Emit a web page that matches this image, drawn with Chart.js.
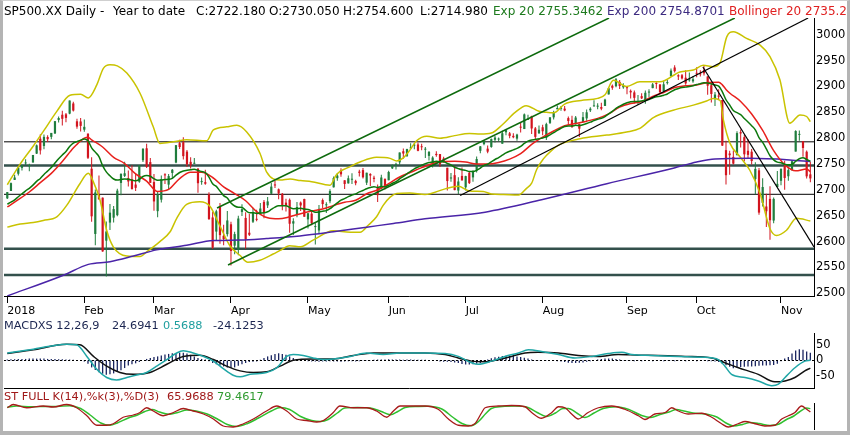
<!DOCTYPE html>
<html><head><meta charset="utf-8">
<script src="https://cdn.jsdelivr.net/npm/chart.js@4.4.1/dist/chart.umd.min.js"></script>
<style>
html,body{margin:0;padding:0;background:#fff;}
#wrap{position:relative;width:850px;height:435px;overflow:hidden;background:#fff;font-family:"DejaVu Sans",sans-serif;}
canvas{position:absolute;left:0;}
.t{position:absolute;white-space:pre;font-size:12px;line-height:14px;font-family:"DejaVu Sans",sans-serif;}
.s{font-size:11.3px;}
#frame{position:absolute;left:0;top:0;width:850px;height:435px;box-sizing:border-box;border-left:3px solid #b4b4b4;border-right:3px solid #b4b4b4;border-bottom:4px solid #b4b4b4;border-top:1px solid #cfcfcf;pointer-events:none;}
</style></head><body>
<div id="wrap">
<canvas id="cMain" width="850" height="320" style="top:0;width:850px;height:320px"></canvas>
<canvas id="cMacd" width="850" height="80" style="top:318px;width:850px;height:80px"></canvas>
<canvas id="cSto" width="850" height="50" style="top:390px;width:850px;height:50px"></canvas>
<div class="t" style="left:4px;top:4px;color:#000">SP500.XX Daily -</div>
<div class="t" style="left:113px;top:4px;color:#000">Year to date</div>
<div class="t" style="left:196px;top:4px;color:#000">C:2722.180</div>
<div class="t" style="left:269px;top:4px;color:#000">O:2730.050</div>
<div class="t" style="left:343px;top:4px;color:#000">H:2754.600</div>
<div class="t" style="left:420px;top:4px;color:#000">L:2714.980</div>
<div class="t" style="left:493px;top:4px;color:#1d7a1d">Exp 20 2755.3462</div>
<div class="t" style="left:607px;top:4px;color:#3c2a80">Exp 200 2754.8701</div>
<div class="t" style="left:729px;top:4px;color:#e02020">Bollinger 20 2735.2</div>
<div class="t s" style="left:4px;top:319px;color:#1b2550">MACDXS 12,26,9</div>
<div class="t s" style="left:112px;top:319px;color:#1b2550">24.6941</div>
<div class="t s" style="left:163px;top:319px;color:#1e9e9e">0.5688</div>
<div class="t s" style="left:213px;top:319px;color:#1b2550">-24.1253</div>
<div class="t s" style="left:4px;top:390px;color:#a01818">ST FULL K(14),%k(3),%D(3)</div>
<div class="t s" style="left:167px;top:390px;color:#a01818">65.9688</div>
<div class="t s" style="left:217px;top:390px;color:#2f9a2f">79.4617</div>
<div id="frame"></div>
</div>
<script>
// ---------- DATA ----------
const monthStartIdx = [0,21,40,61,82,104,125,146,169,188,211];
const monthLabels = ['2018','Feb','Mar','Apr','May','Jun','Jul','Aug','Sep','Oct','Nov'];

const openP = [
2683.7,2697.9,2719.3,2731.3,2742.7,2751.2,2745.6,2753.0,2770.2,2799.0,2785.0,2802.4,2802.6,2809.2,2835.1,2845.4,2846.2,2847.5,2867.2,2832.7,2832.4,
2816.5,2808.9,2741.1,2614.8,2691.0,2685.0,2601.8,2636.8,2646.3,2651.2,2713.5,2727.1,2723.0,2720.5,2710.4,2715.8,2757.4,2780.5,2753.8,
2715.2,2658.9,2681.1,2730.2,2710.2,2732.8,2752.9,2790.5,2792.3,2774.1,2754.3,2750.6,2741.4,2715.1,2715.0,2691.4,2646.7,2619.4,2667.6,2611.3,2614.4,
2633.5,2592.2,2584.0,2657.4,2645.8,2617.2,2638.4,2643.7,2653.8,2676.9,2670.1,2692.7,2710.1,2701.2,2692.6,2675.4,2680.8,2634.9,2651.7,2675.5,2682.5,
2643.0,2654.2,2628.1,2621.5,2680.3,2670.3,2678.1,2705.0,2722.7,2738.5,2718.6,2712.6,2719.7,2717.4,2735.4,2738.3,2714.0,2730.9,2723.6,2705.1,2702.4,2721.0,
2718.7,2741.7,2748.5,2753.3,2774.8,2765.8,2780.2,2785.6,2787.9,2783.2,2777.8,2765.8,2752.0,2769.7,2769.3,2760.8,2742.9,2722.1,2728.5,2698.7,2727.1,
2705.0,2733.3,2724.2,2737.7,2775.6,2788.6,2779.8,2783.1,2796.9,2797.4,2789.3,2811.4,2809.4,2804.6,2799.2,2820.7,2817.7,2835.5,2842.4,2819.0,2809.7,
2821.2,2800.5,2829.6,2840.3,2855.9,2856.8,2857.2,2838.9,2835.5,2827.9,2828.0,2831.4,2838.3,2853.9,2861.5,2861.0,2860.3,2862.4,2884.7,2901.5,2900.6,2908.9,2898.4,
2897.0,2891.6,2888.6,2868.3,2881.4,2871.6,2888.3,2896.9,2906.4,2903.8,2890.7,2906.6,2919.7,2936.8,2921.8,2921.8,2917.0,2911.7,2910.0,
2926.3,2923.8,2931.7,2919.4,2902.5,2877.5,2882.5,2873.9,2776.9,2770.5,2763.8,2767.1,2811.7,2802.0,2775.7,2773.9,2721.0,2737.9,2674.9,2667.9,2682.7,2640.7,2705.6,
2717.6,2745.5,2726.4,2738.4,2774.1,2806.4,2794.1,2773.9,2730.1];

const highP = [
2695.9,2714.4,2729.3,2743.5,2748.5,2759.1,2750.8,2767.6,2787.9,2807.5,2807.0,2805.8,2810.3,2833.0,2842.2,2853.0,2848.6,2872.9,2870.6,2837.8,2839.3,
2836.0,2808.9,2763.4,2701.0,2727.7,2685.3,2638.7,2672.6,2668.8,2702.1,2731.5,2754.4,2737.6,2747.8,2731.3,2747.8,2780.6,2789.2,2761.5,
2730.9,2696.3,2728.1,2732.1,2730.6,2740.5,2786.6,2797.0,2801.9,2777.1,2763.0,2761.9,2741.4,2724.2,2739.1,2695.7,2657.7,2661.4,2674.8,2632.7,2659.1,
2638.3,2619.1,2649.9,2672.1,2656.9,2653.6,2665.5,2661.4,2674.7,2680.3,2686.5,2713.3,2717.5,2702.8,2693.9,2682.9,2683.6,2645.3,2676.5,2677.4,2682.9,
2655.3,2660.9,2637.1,2670.9,2683.4,2676.3,2701.3,2726.1,2732.9,2742.1,2718.6,2727.8,2732.0,2719.5,2739.2,2742.2,2733.3,2732.0,2727.4,2710.7,2729.3,2722.5,
2736.9,2749.2,2752.6,2772.4,2779.9,2779.4,2790.2,2789.8,2791.5,2789.1,2782.8,2775.0,2765.1,2774.9,2769.3,2764.2,2742.9,2732.9,2746.1,2724.3,2743.3,
2727.3,2736.6,2737.8,2764.4,2784.7,2795.6,2785.9,2799.2,2804.5,2801.2,2814.2,2816.8,2812.1,2809.7,2808.6,2830.0,2848.0,2845.6,2843.2,2821.7,2824.5,
2825.8,2829.9,2840.4,2853.3,2863.4,2862.4,2862.5,2842.2,2843.4,2843.1,2828.0,2850.5,2855.6,2859.8,2873.2,2867.5,2868.8,2876.2,2898.3,2903.8,2916.5,2912.5,2906.3,
2900.2,2894.2,2892.1,2883.8,2886.9,2892.5,2894.7,2906.8,2908.3,2904.7,2911.2,2912.4,2934.8,2940.9,2923.8,2924.0,2931.2,2927.2,2920.5,
2937.1,2931.4,2939.9,2919.8,2909.6,2889.5,2894.8,2874.0,2795.1,2775.8,2776.0,2813.5,2816.9,2806.0,2797.8,2778.9,2753.6,2742.6,2722.7,2692.4,2706.9,2685.4,2736.7,
2741.7,2756.6,2744.3,2756.8,2815.2,2814.8,2794.1,2776.0,2754.6];

const lowP = [
2682.4,2697.8,2719.1,2727.9,2737.6,2747.9,2736.1,2752.8,2769.6,2768.6,2778.4,2792.6,2798.1,2808.1,2830.6,2824.8,2830.9,2846.2,2851.5,2818.3,2813.0,
2812.7,2760.0,2638.2,2593.1,2681.3,2580.6,2532.7,2622.5,2637.1,2648.9,2689.8,2725.1,2706.8,2701.3,2697.8,2713.7,2753.8,2742.2,2713.5,
2659.7,2647.3,2675.8,2711.3,2701.7,2721.9,2751.5,2779.3,2758.7,2744.4,2741.5,2750.0,2694.6,2710.1,2709.8,2641.6,2585.9,2601.8,2596.1,2593.1,2609.7,
2553.8,2575.5,2573.6,2649.6,2586.3,2610.8,2635.8,2639.3,2653.8,2645.1,2665.2,2692.1,2703.6,2681.9,2660.6,2658.0,2617.3,2612.7,2647.2,2659.0,2648.0,
2625.4,2631.7,2594.6,2615.3,2664.7,2655.2,2674.1,2704.5,2717.5,2725.5,2701.9,2712.2,2711.4,2709.2,2725.7,2721.9,2709.5,2707.4,2715.0,2676.8,2702.4,2700.7,
2718.7,2740.5,2739.5,2748.5,2760.2,2763.6,2780.2,2778.8,2774.7,2776.5,2761.7,2757.1,2743.2,2763.9,2744.4,2752.7,2698.7,2715.6,2699.4,2692.0,2718.0,
2699.0,2711.2,2716.0,2733.5,2770.7,2786.2,2770.8,2781.5,2791.7,2793.4,2789.2,2805.9,2799.8,2800.0,2795.1,2811.1,2817.7,2835.3,2808.3,2798.1,2808.1,
2805.9,2796.3,2827.4,2836.0,2855.9,2853.1,2852.0,2825.8,2819.9,2826.6,2802.5,2831.4,2833.7,2850.6,2861.3,2856.1,2854.0,2862.4,2884.7,2893.5,2898.4,2895.2,2895.8,
2885.1,2876.9,2867.3,2864.1,2875.9,2866.8,2879.2,2896.4,2895.8,2886.2,2890.4,2903.8,2919.7,2927.1,2912.6,2913.7,2903.3,2909.3,2907.5,
2917.9,2919.4,2921.4,2883.9,2869.3,2862.1,2874.3,2784.9,2710.5,2729.4,2749.0,2766.9,2781.8,2755.2,2760.3,2749.2,2691.4,2651.9,2667.8,2628.2,2603.5,2635.3,2705.6,
2708.9,2700.4,2717.9,2737.1,2774.1,2795.0,2764.2,2722.0,2715.0];

const closeP = [
2695.8,2713.1,2724.0,2743.2,2747.7,2751.3,2748.2,2767.6,2786.2,2776.4,2802.6,2798.0,2810.3,2833.0,2839.1,2837.5,2839.3,2872.9,2853.5,2822.4,2823.8,
2822.0,2762.1,2648.9,2695.1,2681.7,2581.0,2619.6,2656.0,2662.9,2698.6,2731.2,2732.2,2716.3,2701.3,2704.0,2747.3,2779.6,2744.3,2713.8,
2677.7,2691.3,2720.9,2728.1,2726.8,2739.0,2786.6,2783.0,2765.3,2749.5,2747.3,2752.0,2712.9,2716.9,2711.9,2643.7,2588.3,2658.6,2612.6,2605.0,2640.9,
2581.9,2614.5,2644.7,2662.8,2604.5,2613.2,2656.9,2642.2,2664.0,2656.3,2677.8,2706.4,2708.6,2693.1,2670.1,2670.3,2634.6,2639.4,2666.9,2669.9,2648.1,
2654.8,2635.7,2629.7,2663.4,2672.6,2671.9,2697.8,2723.1,2727.7,2730.1,2711.5,2722.5,2720.1,2713.0,2733.0,2724.4,2733.3,2727.8,2721.3,2689.9,2724.0,2705.3,
2734.6,2746.9,2748.8,2772.4,2770.4,2779.0,2782.0,2786.9,2775.6,2782.5,2779.7,2773.8,2762.6,2767.3,2749.8,2754.9,2717.1,2723.1,2699.6,2716.3,2718.4,
2726.7,2713.2,2736.6,2759.8,2784.2,2793.8,2774.0,2798.3,2801.3,2798.4,2809.6,2815.6,2804.5,2801.8,2807.0,2820.4,2846.1,2837.4,2818.8,2802.6,2816.3,
2813.4,2827.2,2840.4,2850.4,2858.5,2857.7,2853.6,2833.3,2821.9,2840.0,2818.4,2840.7,2850.1,2857.1,2863.0,2861.8,2857.0,2874.7,2896.7,2897.5,2914.0,2901.1,2901.5,
2896.7,2888.6,2878.1,2871.7,2877.1,2887.9,2888.9,2904.2,2905.0,2888.8,2904.3,2908.0,2930.8,2929.7,2919.4,2915.6,2906.0,2914.0,2914.0,
2924.6,2923.4,2925.5,2901.6,2885.6,2884.4,2880.3,2785.7,2728.4,2767.1,2750.8,2809.9,2809.2,2768.8,2767.8,2755.9,2740.7,2656.1,2705.6,2658.7,2641.3,2682.6,2711.7,
2740.4,2723.1,2738.3,2755.5,2813.9,2806.8,2781.0,2726.2,2722.2];

const ema20 = [
2672.5,2676.4,2680.9,2686.8,2692.6,2698.2,2703.0,2709.2,2716.5,2722.2,2729.9,2736.4,2743.4,2751.9,2760.2,2767.6,2774.4,2783.8,2790.4,2793.4,2796.3,
2798.7,2795.2,2781.3,2773.1,2764.4,2746.9,2734.8,2727.3,2721.1,2719.0,2720.2,2721.3,2720.8,2718.9,2717.5,2720.3,2725.9,2727.7,2726.4,2721.8,
2718.9,2719.1,2720.0,2720.6,2722.4,2728.5,2733.7,2736.7,2737.9,2738.8,2740.1,2737.5,2735.5,2733.3,2724.8,2711.8,2706.8,2697.8,2689.0,2684.4,
2674.6,2668.9,2666.6,2666.2,2660.3,2655.8,2655.9,2654.6,2655.5,2655.6,2657.7,2662.3,2666.7,2669.2,2669.3,2669.4,2666.1,2663.6,2663.9,2664.5,
2662.9,2662.1,2659.6,2656.8,2657.4,2658.8,2660.0,2663.6,2669.3,2674.9,2680.2,2683.2,2686.9,2690.1,2692.3,2696.2,2698.9,2702.2,2704.6,2706.2,
2704.6,2706.4,2706.3,2709.0,2712.6,2716.0,2721.4,2726.1,2731.1,2735.9,2740.8,2744.1,2747.8,2750.8,2753.0,2753.9,2755.2,2754.7,2754.7,2751.1,
2748.4,2743.8,2741.2,2739.0,2737.8,2735.5,2735.6,2737.9,2742.3,2747.2,2749.7,2754.3,2758.8,2762.6,2767.1,2771.7,2774.8,2777.4,2780.2,2784.0,
2789.9,2794.4,2796.7,2797.3,2799.1,2800.5,2803.0,2806.6,2810.8,2815.3,2819.3,2822.6,2823.6,2823.4,2825.0,2824.4,2826.0,2828.3,2831.0,2834.0,
2836.6,2838.5,2841.9,2847.1,2851.9,2857.8,2861.9,2865.7,2868.6,2870.5,2871.2,2871.2,2871.8,2873.3,2874.8,2877.6,2880.2,2881.0,2883.2,2885.6,
2889.9,2893.7,2896.1,2898.0,2898.8,2900.2,2901.5,2903.7,2905.6,2907.5,2906.9,2904.9,2902.9,2900.7,2889.8,2874.4,2864.2,2853.4,2849.3,2845.5,
2838.2,2831.5,2824.3,2816.3,2801.0,2791.9,2779.2,2766.1,2758.1,2753.7,2752.4,2749.6,2748.5,2749.2,2755.4,2760.3,2762.3,2758.9,2755.3];

const sma20Pts = [[0,2667],[3,2681],[6,2696],[9,2714],[12,2732],[15,2755],[18,2781],[19,2788],[20,2794.5],[21,2800],[22,2802],[23,2797],[26,2783],[29,2763],[32,2751],[35,2731],[38,2717],[41,2697],[44,2701],[47,2722],[50,2734],[53,2734],[56,2724],[59,2706],[62,2693],[65,2679],[68,2658],[71,2646],[74,2644],[77,2648],[80,2654],[83,2659],[86,2663],[89,2670],[92,2676],[95,2680],[98,2692.5],[101,2700],[104,2712],[107,2725],[110,2734],[113,2743],[116,2751],[119,2755],[122,2755.6],[125,2754],[128,2750],[131,2750],[134,2753],[137,2759.5],[140,2770],[143,2788],[146,2802],[149,2814],[152,2824],[155,2828.5],[158,2833],[161,2838.4],[164,2847],[167,2860],[170,2867],[173,2871],[176,2881],[179,2888.5],[182,2898],[185,2901.5],[188,2903],[191,2907.7],[194,2908.4],[195,2903.2],[196,2894.4],[197,2887.5],[200,2871],[203,2846.7],[206,2815],[209,2776],[212,2749],[215,2737],[218,2740.4],[219,2735.2]];

const bbUpperPts = [[0,2710],[3.5,2750],[7.1,2785],[10,2815],[13.5,2852],[17.1,2883],[20,2885],[22.1,2878],[24.4,2903],[26.2,2935],[28,2942],[30,2940],[32.6,2926],[36.2,2887],[39.8,2822],[41.6,2790],[45.3,2793],[48.9,2797],[54.4,2795],[56.2,2816],[59.8,2822],[62.6,2825],[65.3,2812],[68.9,2771],[70.7,2735],[74.4,2719],[77.1,2721],[80,2718],[83,2716],[88,2709],[89.8,2730],[93.5,2745],[96.2,2754],[100.7,2763],[104.4,2761],[106.2,2756],[108,2762],[109.8,2777],[111.6,2795],[114.4,2804],[118,2800],[122,2805],[126,2809],[129,2808],[132,2810],[135,2826],[138.5,2850],[141.5,2863],[145,2852],[147,2850],[149,2849],[152,2866],[156.5,2873],[161,2877],[163,2884],[165.3,2912],[168.9,2900],[172.5,2909],[178,2909],[183.4,2928],[187.1,2932],[189.8,2941],[192.5,2938],[194.4,2946],[196.2,2996],[198,3006],[201.6,2993],[205.3,2980],[208,2958],[210.7,2913],[213.4,2829],[216.2,2845],[218,2842],[219,2832]];

const bbLowerPts = [[0,2628],[3.5,2634],[7.1,2637],[9.8,2641],[13.5,2648],[16.2,2670],[19.8,2712],[22.1,2732],[23.5,2715],[25.3,2680],[27.1,2622],[28.9,2590],[32.6,2572],[36.2,2571],[38,2580],[41.6,2600],[44.4,2619],[46.2,2645],[48.9,2672],[52.5,2677],[55.3,2668],[58,2630],[60.7,2592],[63.5,2573],[65.6,2560],[68.9,2564],[72.5,2576],[74.4,2583],[77,2592],[80,2590],[83.4,2603],[88.9,2621],[93.5,2618],[96.2,2618],[98.5,2632],[100.7,2648],[102.5,2670],[104.4,2686],[106.2,2693],[109.8,2694],[113.9,2691],[119.4,2702],[123,2707],[126,2698],[129.8,2697],[132,2692],[135.3,2691],[139.4,2690],[141.6,2703],[143,2713],[144.4,2740],[146.2,2760],[148.4,2776],[150.7,2788],[156.2,2799],[163.5,2806],[168.9,2812],[172.5,2819],[176.2,2840],[181.6,2854],[187.1,2864],[190.7,2872],[192.5,2877],[194.4,2873],[195.3,2835],[197.1,2790],[199.8,2764],[202.5,2738],[205.3,2693],[208,2625],[209.8,2612],[212.5,2622],[215.2,2645],[219,2640]];

const ema200Pts = [[0,2495],[15.3,2535],[22.1,2556],[28,2561],[34.4,2572],[40.7,2584],[48.9,2593],[56.2,2602],[63.5,2603],[70.7,2606],[79.8,2611],[88.9,2619],[98,2628],[105.3,2635],[113.9,2644],[130.3,2657],[145.7,2681],[163.5,2712],[181.6,2742],[188,2754],[193,2760],[202.5,2761],[213.4,2758],[219,2754.9]];

const levels = [2793, 2747, 2691.5, 2586, 2535.5];
const levelHeavy = [false, true, false, true, true];

const trendA = [[57.2,2665],[164.1,3032.5]];
const trendB = [[60.2,2554.7],[198.4,3032.5]];
const trendC = [[123.5,2689.2],[218.4,3032.5]];
const trendD = [[189.7,2937.7],[220,2589.6]];

const macdPts = [[0,24],[7.1,36],[11.6,45],[16.2,52],[18.9,50],[21.7,13],[24.4,-28],[27.1,-54],[29.8,-62],[32.6,-54],[35.3,-46],[38,-38],[40.7,-18],[43.5,3],[46.2,24],[48,31],[50.7,24],[53.5,13],[56.2,-2],[58.9,-26],[61.6,-47],[63.5,-52],[66.2,-44],[70.7,-38],[73.5,-23],[76.2,13],[78,19],[80.7,16],[83.4,8],[86.2,3],[88.9,5],[93.5,13],[98,24],[102.5,19],[107.1,24],[113.9,24],[119.4,22],[123,13],[126.6,-7],[128.4,-12],[132.1,-2],[135.7,13],[139.4,24],[142.1,34],[145.7,29],[150.3,19],[154.8,8],[159.4,13],[163.9,22],[167.6,26],[170.3,19],[175.7,16],[183,13],[190.3,10],[193.9,3],[195.7,-18],[197.5,-44],[201.2,-54],[204.8,-65],[208.5,-80],[210.3,-75],[212.1,-54],[214.8,-23],[217.5,-2],[219,0.6]];

const signalPts = [[0,22],[7.1,34],[16.2,52],[19.8,50],[23.5,13],[27.1,-18],[30.7,-38],[34.4,-44],[38.9,-38],[43.5,-12],[48,13],[52.5,17],[56.2,3],[59.8,-18],[63.5,-33],[67.1,-38],[70.7,-36],[74.4,-18],[78,1],[83.4,5],[88.9,5],[94.4,16],[99.8,24],[107.1,24],[113.9,24],[119.4,19],[123,8],[126.6,-2],[130.3,-4],[133.9,3],[137.5,13],[141.2,24],[144.8,26],[150.3,24],[155.7,16],[161.2,13],[166.6,19],[172.1,17],[177.5,16],[184.8,13],[192.1,8],[195.7,-7],[199.4,-23],[204.8,-44],[209.3,-68],[212.1,-65],[214.8,-54],[217.5,-33],[219,-24.1]];

const histVals = [
3,4,4,5,5,5,6,6,6,6,6,5,5,5,4,4,3,3,2,1,0,
-3,-10,-22,-30,-37,-42,-45,-44,-41,-36,-31,-24,-16,-12,-9,-5,
0,5,8,11,13,16,19,21,23,24,25,25,22,18,13,8,5,3,
-2,-8,-12,-16,-19,-22,-24,-22,-17,-12,-8,-5,-4,-3,
2,8,13,17,21,23,21,18,13,8,5,3,0,
-2,-3,-3,-4,-3,-3,-2,-3,-3,-4,-3,-2,-2,-3,-2,-1,-1,
1,2,3,3,3,4,3,3,3,2,3,3,2,2,2,
2,1,0,-1,
-3,-4,-4,-5,-6,
-8,-11,-13,-13,-12,-10,-8,-5,
3,7,10,12,14,15,15,14,13,11,9,6,3,
1,1,0,1,0,-1,-2,-3,
-5,-7,-8,-8,-7,-6,-4,-2,0,
3,5,6,6,6,5,3,1,
-1,-1,-2,-1,-2,-1,-1,-2,-1,-1,-2,-1,-1,-2,-1,-1,-2,-1,-1,-2,-1,-1,-2,-2,-3,
-5,-10,-15,-20,-25,
-22,-21,-20,-19,-19,-18,-17,-16,-16,-15,-14,-10,-2,
6,11,22,32,36,34,29,25];

const stochKPts = [[0,83],[1.6,96],[5.3,83],[9.8,90],[12.5,86],[16.2,96],[18.9,83],[21.7,51],[24.4,13],[27.1,13],[28.9,19],[31.6,45],[34.4,54],[36.2,64],[38,83],[39.8,70],[42.5,51],[45.3,64],[48,80],[50.7,70],[53.5,58],[56.2,38],[58.9,10],[61.6,6],[64.4,19],[67.1,38],[70.7,70],[73.5,90],[76.2,70],[78.9,38],[81.6,32],[84.4,26],[86.2,32],[88.9,64],[90.7,90],[94.4,83],[98,83],[100.7,70],[103.5,45],[105.3,70],[107.1,90],[110.7,90],[113.9,90],[117.5,77],[120.3,38],[123,13],[125.7,10],[127.5,19],[129.4,64],[130.3,83],[133.9,90],[137.5,92],[141.2,87],[143,64],[145.7,41],[148.5,64],[150.3,87],[152.1,83],[153.9,58],[155.7,38],[158.4,64],[161.2,83],[164.8,90],[168.4,77],[172.1,51],[173.9,36],[176.6,58],[179.4,64],[181.2,83],[183,70],[185.7,58],[189.4,61],[192.1,45],[194.8,19],[196.6,6],[199.3,19],[201.2,28],[203.9,19],[206.6,10],[209.3,13],[211.2,38],[213,51],[214.8,64],[216.6,90],[218,77],[219,66]];

const stochDPts = [[0,85],[2.5,90],[6.5,87],[10.5,88],[13.5,88],[17,91],[20,80],[22.5,55],[25.5,22],[28,13],[30,22],[33,42],[35.5,54],[37.5,68],[39.5,76],[41.5,66],[44,57],[46.5,64],[49,74],[51.5,70],[54.5,58],[57.5,36],[60,16],[62.5,8],[65.5,20],[68.5,42],[72,70],[74.5,84],[77,76],[80,48],[83,32],[85.5,28],[87.5,36],[90,62],[92,82],[95.5,84],[99,82],[102,68],[104.5,55],[106.5,68],[108.5,84],[112,88],[114.5,89],[118.5,78],[121.5,45],[124,20],[126.5,11],[128.5,28],[130.5,60],[132,80],[135,88],[138.5,90],[142,84],[144.5,64],[147,48],[149.5,62],[151.5,80],[153,80],[155.5,60],[157.5,44],[160,62],[162.5,80],[166,87],[169.5,76],[173,52],[175.5,44],[178,56],[180.5,66],[182.5,76],[184.5,70],[187,62],[190.5,58],[193.5,46],[196,22],[198,10],[200.5,16],[202.5,24],[205,20],[208,12],[210.5,18],[212.5,36],[214.5,50],[216,66],[218,82],[219,79.5]];

// ---------- STYLE / LAYOUT ----------
const X_MIN = -0.9, X_MAX = 220;
const FONT = 'DejaVu Sans';
const UP = '#1f7d3d', DOWN = '#d2141e';
const pts = a => a.map(p => ({x: p[0], y: p[1]}));
const line = (data, color, width, order, extra) => Object.assign({type:'line', data, borderColor: color, borderWidth: width, pointRadius: 0, fill: false, order, cubicInterpolationMode: 'monotone'}, extra || {});
const candleColor = ctx => (closeP[ctx.dataIndex] >= openP[ctx.dataIndex] ? UP : DOWN);
const yAxisWidthFix = s => { s.width = 36; };
const plainNum = v => String(v);

const commonOpts = {responsive: false, animation: false, events: [], plugins: {legend: {display: false}, tooltip: {enabled: false}}};

// ---------- MAIN PRICE CHART ----------
const mainDatasets = [];
levels.forEach((lv, k) => mainDatasets.push(line([{x: X_MIN, y: lv}, {x: X_MAX, y: lv}], levelHeavy[k] ? '#33504c' : '#000', levelHeavy[k] ? 2.5 : 1, 9, {cubicInterpolationMode: 'default'})));
mainDatasets.push({type: 'bar', data: lowP.map((l, i) => ({x: i, y: [l, highP[i]]})), backgroundColor: candleColor, maxBarThickness: 1, grouped: false, order: 7});
mainDatasets.push({type: 'bar', data: openP.map((o, i) => ({x: i, y: [o, closeP[i]]})), backgroundColor: candleColor, maxBarThickness: 2.2, grouped: false, minBarLength: 1, order: 6});
mainDatasets.push(line(pts(bbUpperPts), '#c9c300', 1.5, 5));
mainDatasets.push(line(pts(bbLowerPts), '#c9c300', 1.5, 5));
mainDatasets.push(line(pts(ema200Pts), '#4a24a8', 1.5, 4));
mainDatasets.push(line(pts(sma20Pts), '#e8201c', 1.5, 3));
mainDatasets.push(line(ema20.map((v, i) => ({x: i, y: v})), '#0c780c', 1.5, 2));
[trendA, trendB].forEach(t => mainDatasets.push(line(pts(t), '#0d6a0d', 1.5, 1, {cubicInterpolationMode: 'default'})));
[trendC, trendD].forEach(t => mainDatasets.push(line(pts(t), '#000', 1.2, 1, {cubicInterpolationMode: 'default'})));

new Chart(document.getElementById('cMain'), {
  type: 'bar',
  data: {datasets: mainDatasets},
  options: Object.assign({}, commonOpts, {
    layout: {padding: {left: 4, top: 18, right: 0, bottom: 0}},
    scales: {
      x: {type: 'linear', min: X_MIN, max: X_MAX, offset: false,
        afterBuildTicks: s => { s.ticks = monthStartIdx.map(v => ({value: v})); },
        afterFit: s => { s.height = 24; },
        ticks: {autoSkip: false, maxRotation: 0, minRotation: 0, align: 'start', padding: 2, color: '#000', font: {family: FONT, size: 11}, callback: (v, i) => monthLabels[i]},
        grid: {display: true, drawOnChartArea: false, drawTicks: true, tickLength: 7, color: '#000', offset: false},
        border: {display: true, color: '#000', width: 1}},
      y: {type: 'linear', position: 'right', min: 2494.8, max: 3032.5,
        afterFit: yAxisWidthFix,
        ticks: {stepSize: 50, includeBounds: false, padding: 2, color: '#000', font: {family: FONT, size: 11.5}, callback: plainNum},
        grid: {display: false, drawTicks: false},
        border: {display: true, color: '#000', width: 1}}
    }
  })
});

// ---------- MACD ----------
new Chart(document.getElementById('cMacd'), {
  type: 'bar',
  data: {datasets: [
    {type: 'bar', data: histVals.map((v, i) => ({x: i, y: v})), backgroundColor: '#1a2560', maxBarThickness: 1.3, grouped: false, order: 4},
    line([{x: X_MIN, y: 0}, {x: X_MAX, y: 0}], '#000', 1, 3, {borderDash: [2, 2], cubicInterpolationMode: 'default'}),
    line(pts(signalPts), '#111', 1.5, 2),
    line(pts(macdPts), '#1fa6a6', 1.5, 1)
  ]},
  options: Object.assign({}, commonOpts, {
    layout: {padding: {left: 4, top: 15, right: 0, bottom: 10}},
    scales: {
      x: {type: 'linear', min: X_MIN, max: X_MAX, offset: false, afterFit: s => { s.height = 0; },
        ticks: {display: false}, grid: {display: false, drawTicks: false}, border: {display: true, color: '#000', width: 1}},
      y: {type: 'linear', position: 'right', min: -87.5, max: 87.5, afterFit: yAxisWidthFix,
        ticks: {stepSize: 50, includeBounds: false, padding: 2, color: '#000', font: {family: FONT, size: 11.5}, callback: plainNum},
        grid: {display: false, drawTicks: false}, border: {display: true, color: '#000', width: 1}}
    }
  })
});

// ---------- STOCHASTIC ----------
new Chart(document.getElementById('cSto'), {
  type: 'line',
  data: {datasets: [
    line(pts(stochDPts), '#2fc02f', 1.5, 2),
    line(pts(stochKPts), '#a81a1a', 1.3, 1)
  ]},
  options: Object.assign({}, commonOpts, {
    layout: {padding: {left: 4, top: 13, right: 0, bottom: 11}},
    scales: {
      x: {type: 'linear', min: X_MIN, max: X_MAX, display: false},
      y: {type: 'linear', position: 'right', min: -2, max: 102, afterFit: yAxisWidthFix,
        ticks: {display: false}, grid: {display: false, drawTicks: false}, border: {display: true, color: '#000', width: 1}}
    }
  })
});
</script>
</body></html>
